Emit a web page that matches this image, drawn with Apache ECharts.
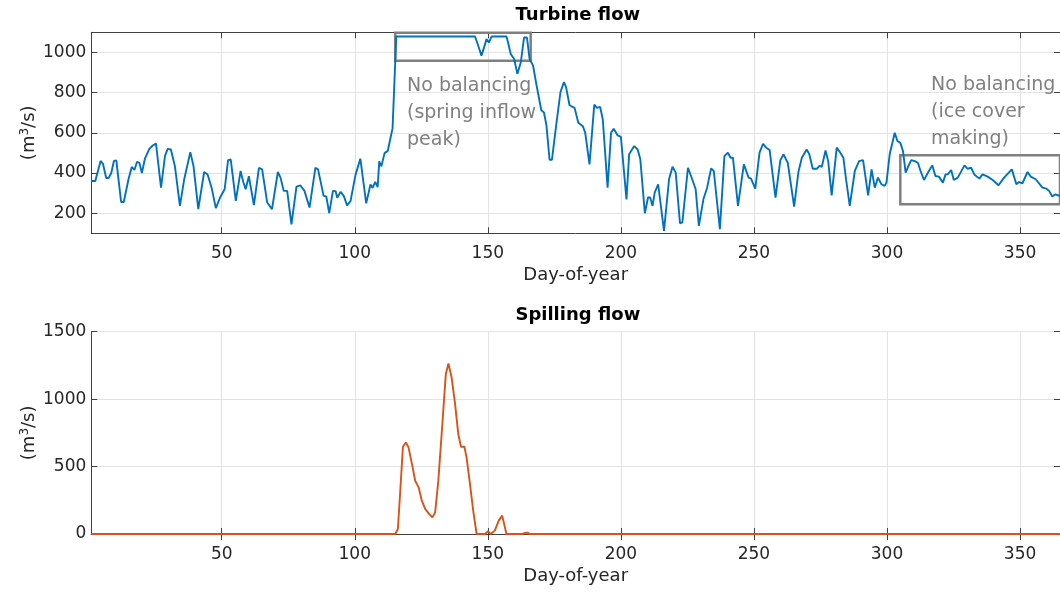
<!DOCTYPE html>
<html><head><meta charset="utf-8">
<script src="https://cdn.jsdelivr.net/npm/echarts@6/dist/echarts.min.js"></script>
<style>html,body{margin:0;padding:0;background:#fff}#c{width:1060px;height:598px}</style>
</head><body><div id="c"></div><script>
const xTicks = [50,100,150,200,250,300,350];
const turbineTicks = [200,400,600,800,1000];
const spillTicks = [0,500,1000,1500];
const turbineFlow = [[1,360],[2.5,360],[4.5,460],[5.4,445],[6.6,375],[7.5,375],[8.5,400],[9.5,460],[10.4,463],[12.2,256],[13.2,256],[15,370],[16.2,430],[17.2,415],[18.2,456],[19.1,450],[20,400],[21.2,473],[22.8,520],[24.1,537],[25.3,547],[27.2,327],[28.7,485],[29.7,520],[30.9,517],[32.4,435],[34.3,236],[35.9,368],[38.2,504],[39.4,435],[41.2,220],[43.4,405],[44.7,393],[46.2,327],[47.8,225],[49.4,278],[51.1,319],[52.4,464],[53.4,467],[55.3,261],[57.1,410],[58.1,355],[59,319],[60.2,384],[62.1,240],[64,426],[65.2,418],[67.1,253],[68.9,220],[71.1,405],[72.1,377],[73.3,311],[74.6,311],[76.2,145],[78.1,332],[79.6,338],[81.1,311],[83,228],[85.2,426],[86.2,418],[88.3,286],[89.3,283],[90.4,200],[91.8,311],[92.8,310],[93.4,277],[94.7,307],[95.9,285],[97.1,239],[98.4,260],[100.3,392],[102.1,471],[104.3,249],[105.9,343],[106.7,326],[107.7,356],[108.6,330],[109.2,458],[110,433],[111.2,499],[112.4,510],[113.4,573],[114.2,622],[115,885],[115.6,1079],[145.2,1079],[146.4,1033],[147.6,984],[148.6,1025],[149.5,1066],[150.4,1049],[151.4,1079],[157,1079],[157.6,1049],[158.6,992],[159.9,967],[161.1,893],[162.4,951],[163.6,1074],[164.7,1074],[165.7,967],[167,934],[168.2,844],[170.1,712],[171.1,701],[172,639],[173.2,466],[174.1,466],[175.7,639],[177.3,803],[178.6,852],[179.4,827],[180.7,737],[182.6,724],[184,650],[185.7,633],[186.6,600],[188.2,443],[190,740],[191,724],[192.2,729],[193.2,666],[195,327],[196.3,600],[197.3,620],[198.8,587],[200,580],[202.1,269],[203.1,493],[205,534],[206.3,517],[207.3,468],[209,200],[210.2,278],[211,278],[211.9,236],[212.7,302],[214,344],[216.2,112],[218.1,369],[219.4,431],[220.6,402],[222.2,150],[223.1,154],[225.2,426],[226.8,369],[228.1,319],[229.3,137],[230,145],[231,269],[232.4,327],[233.9,423],[234.9,410],[237.2,121],[238.9,484],[240.2,501],[241.2,476],[242.1,476],[244,236],[246.2,443],[248,377],[248.9,372],[250.5,322],[251.1,322],[252.1,501],[253.4,545],[254.6,526],[255.9,514],[258.1,278],[259.9,463],[261.1,493],[262.7,451],[265.1,233],[266.7,405],[268,476],[269.8,517],[270.8,493],[272.1,421],[273.6,421],[274.6,435],[275.5,431],[276.9,512],[277.9,459],[279.2,289],[281.1,526],[282.3,504],[283.6,476],[284.6,369],[286,236],[287.9,410],[289.5,459],[291,464],[292.9,289],[294.2,418],[295.4,327],[296.6,377],[297.9,344],[299.1,336],[299.8,352],[301,493],[302.9,600],[303.9,559],[305,550],[306,509],[307,402],[307.9,431],[309.1,464],[310.4,459],[311.6,451],[312.6,410],[313.9,365],[315.4,402],[317,438],[318.2,385],[319.5,382],[321,352],[322,393],[322.8,393],[324.1,415],[325.1,365],[326.6,377],[329.1,438],[330.3,421],[331.6,426],[332.8,393],[334.7,372],[335.9,393],[337.8,382],[339.7,365],[341.9,339],[344,377],[346.9,418],[348.6,344],[349.6,355],[350.9,349],[352.8,405],[354,382],[355.9,369],[358.4,327],[359.9,322],[360.9,311],[362.1,283],[363.3,294],[365,285]];
const spillFlow = [[1,0],[115.2,0],[116.2,37],[117.1,321],[118.1,647],[119.2,679],[120.2,642],[121.5,518],[122.7,395],[124,346],[125.2,247],[126.5,185],[128,148],[129.2,123],[130.2,160],[131.4,395],[133,840],[134.2,1185],[135.2,1264],[136.4,1160],[137.7,963],[138.9,741],[139.9,647],[141.2,647],[142,568],[143.3,370],[144.5,173],[145.8,0],[148.9,0],[150.1,20],[151.1,0],[152.6,25],[154.1,99],[155.4,136],[156.1,123],[157,0],[163,0],[163.9,7],[164.9,10],[165.7,0],[365,0]];
const springBox = [[115.2,959],[166.1,1098]];
const iceBox = [[305,245],[365,488]];
const springNote = ['No balancing','(spring inflow','peak)'];
const iceNote = ['No balancing','(ice cover','making)'];

const FONT = 'DejaVu Sans';
const AX = '#404040', TXT = '#262626', GRID = '#e3e3e3';
const L = 91.3, W = 973.1, R = 1060 - L - W;
const plain = v => String(v);
const grids = [
  {left: L, right: R, top: 32.3, height: 201},
  {left: L, right: R, top: 331.7, height: 202.3}
];
function xAxes(gi){
  return [
    {type:'value', gridIndex:gi, min:1, max:365, position:'bottom',
     name:'Day-of-year', nameLocation:'middle', nameGap:33,
     nameTextStyle:{fontFamily:FONT, fontSize:18, color:TXT},
     axisLine:{show:true, lineStyle:{color:AX, width:1}},
     axisTick:{show:true, inside:true, length:6, customValues:xTicks, lineStyle:{color:AX}},
     axisLabel:{customValues:xTicks, formatter:plain, fontFamily:FONT, fontSize:17, color:TXT, margin:12},
     splitLine:{show:true, lineStyle:{color:GRID, width:1}}},
    {type:'value', gridIndex:gi, min:1, max:365, position:'top',
     axisLine:{show:true, lineStyle:{color:AX, width:1}},
     axisTick:{show:true, inside:true, length:6, customValues:xTicks, lineStyle:{color:AX}},
     axisLabel:{show:false}, splitLine:{show:false}}
  ];
}
function yAxes(gi, min, max, ticks){
  return [
    {type:'value', gridIndex:gi, min:min, max:max, position:'left',
     name:'(m{s|3}/s)', nameLocation:'middle', nameGap:52, nameRotate:90, nameMoveOverlap:false,
     nameTextStyle:{fontFamily:FONT, fontSize:18, color:TXT,
       rich:{s:{fontFamily:FONT, fontSize:12, color:TXT, verticalAlign:'top', padding:[0,0,8,0]}}},
     axisLine:{show:true, lineStyle:{color:AX, width:1}},
     axisTick:{show:true, inside:true, length:6, customValues:ticks, lineStyle:{color:AX}},
     axisLabel:{customValues:ticks, formatter:plain, fontFamily:FONT, fontSize:17, color:TXT, margin:5},
     splitLine:{show:true, lineStyle:{color:GRID, width:1}}},
    {type:'value', gridIndex:gi, min:min, max:max, position:'right',
     axisLine:{show:true, lineStyle:{color:AX, width:1}},
     axisTick:{show:true, inside:true, length:6, customValues:ticks, lineStyle:{color:AX}},
     axisLabel:{show:false}, splitLine:{show:false}}
  ];
}
const boxStyle = {color:'rgba(0,0,0,0)', borderColor:'#808080', borderWidth:2.5};
function note(lines, x, y0){
  return lines.map((t,i)=>({type:'text', x:x, y:y0 + i*27,
    style:{text:t, fill:'#808080', font:'19px "DejaVu Sans"', textAlign:'left', textVerticalAlign:'middle'}, z:10}));
}
const chart = echarts.init(document.getElementById('c'), null, {renderer:'canvas'});
chart.setOption({
  animation:false,
  backgroundColor:'#fff',
  grid: grids,
  xAxis: xAxes(0).concat(xAxes(1)),
  yAxis: yAxes(0,100,1100,turbineTicks).concat(yAxes(1,0,1500,spillTicks)),
  series:[
    {type:'line', xAxisIndex:0, yAxisIndex:0, data:turbineFlow, showSymbol:false, symbol:'none',
     lineStyle:{color:'#0072BD', width:1.9}, z:5,
     markArea:{silent:true, itemStyle:boxStyle,
       data:[[{coord:springBox[0]},{coord:springBox[1]}],[{coord:iceBox[0]},{coord:iceBox[1]}]]}},
    {type:'line', xAxisIndex:2, yAxisIndex:2, data:spillFlow, showSymbol:false, symbol:'none',
     lineStyle:{color:'#D95319', width:1.9}, z:5}
  ],
  graphic: [
    {type:'text', x:L+W/2, y:15, style:{text:'Turbine flow', fill:'#000', font:'bold 18px "DejaVu Sans"', textAlign:'center', textVerticalAlign:'middle'}},
    {type:'text', x:L+W/2, y:315, style:{text:'Spilling flow', fill:'#000', font:'bold 18px "DejaVu Sans"', textAlign:'center', textVerticalAlign:'middle'}}
  ].concat(note(springNote, 407, 86)).concat(note(iceNote, 931, 85))
});
</script></body></html>
